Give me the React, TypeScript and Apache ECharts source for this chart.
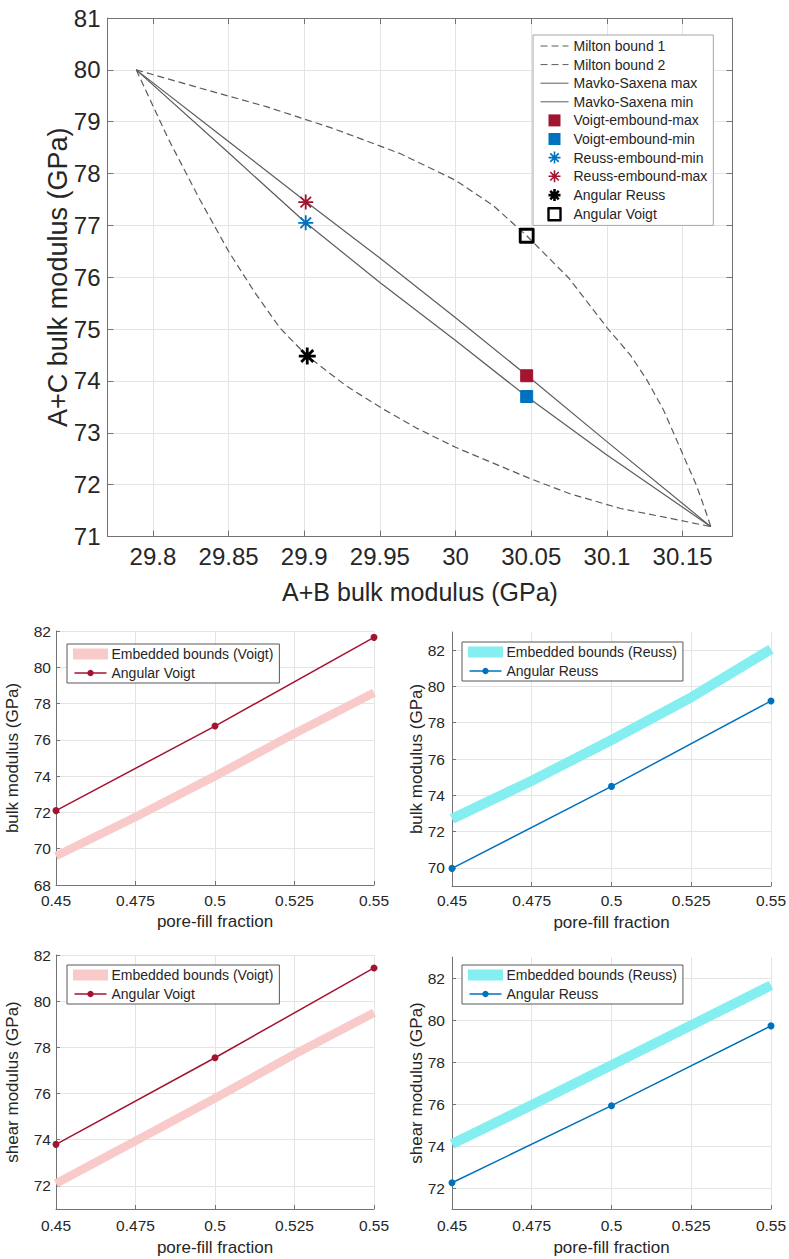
import React, { useEffect, useRef } from 'react';
import * as echarts from 'echarts';

const FONT = '"Liberation Sans", Arial, Helvetica, sans-serif';
const TEXT = '#262626';
const AXIS = '#737373';
const GRIDLINE = '#e4e4e4';
const CURVE = '#5c5c5c';
const RED = '#a2142f';
const BLUE = '#0072bd';
const PINK = '#f8caca';
const CYAN = '#84eef0';

// ---------- top chart data: [A+B bulk modulus, A+C bulk modulus] ----------
const miltonBound1 = [
  [29.789, 80.0], [29.831, 79.65], [29.875, 79.29], [29.919, 78.87], [29.963, 78.39],
  [30.0, 77.87], [30.025, 77.38], [30.047, 76.8], [30.075, 75.98], [30.1, 75.03], [30.1155, 74.5],
  [30.1264, 74.02], [30.1374, 73.44], [30.144, 73.0], [30.1528, 72.41], [30.159, 72.0],
  [30.165, 71.51], [30.1687, 71.19],
];
const miltonBound2 = [
  [29.789, 80.0], [29.81, 78.68], [29.831, 77.5], [29.85, 76.5], [29.867, 75.72],
  [29.884, 75.02], [29.902, 74.48], [29.928, 73.9], [29.952, 73.46], [29.975, 73.08],
  [30.0, 72.72], [30.049, 72.12], [30.076, 71.82], [30.109, 71.54], [30.142, 71.35], [30.1687, 71.19],
];
const mavkoSaxenaMax = [
  [29.789, 80.0], [29.85, 78.62], [29.901, 77.46], [29.95, 76.37], [30.0, 75.22],
  [30.047, 74.11], [30.1, 72.83], [30.1687, 71.19],
];
const mavkoSaxenaMin = [
  [29.789, 80.0], [29.85, 78.4], [29.901, 77.05], [29.95, 75.9], [30.0, 74.78],
  [30.047, 73.7], [30.1, 72.57], [30.1687, 71.19],
];
const voigtEmboundMax = [30.047, 74.1];
const voigtEmboundMin = [30.047, 73.7];
const reussEmboundMin = [29.901, 77.05];
const reussEmboundMax = [29.901, 77.45];
const angularReussPoint = [29.902, 74.48];
const angularVoigtPoint = [30.047, 76.8];

// ---------- bottom charts data ----------
const poreFill = [0.45, 0.5, 0.55];
const bandFill = [0.45, 0.475, 0.5, 0.525, 0.55];
const bulkAngularVoigt = [72.1, 76.76, 81.65];
const bulkEmbeddedVoigt = [69.6, 71.75, 74.0, 76.35, 78.6];
const bulkAngularReuss = [69.97, 74.49, 79.2];
const bulkEmbeddedReuss = [72.7, 74.8, 77.05, 79.4, 82.05];
const shearAngularVoigt = [73.8, 77.55, 81.44];
const shearEmbeddedVoigt = [72.1, 73.95, 75.8, 77.7, 79.5];
const shearAngularReuss = [72.25, 75.92, 79.72];
const shearEmbeddedReuss = [74.1, 75.95, 77.85, 79.75, 81.65];

const SQUARE = 'path://M0,0L10,0L10,10L0,10Z';
const ASTERISK = 'path://M0,-10L0,10M-10,0L10,0M-7.07,-7.07L7.07,7.07M-7.07,7.07L7.07,-7.07';

const zip = (xs: number[], ys: number[]) => xs.map((x, i) => [x, ys[i]]);

function buildOption() {
  const grid: any[] = [
    { left: 107.5, top: 18, width: 625, height: 518.5 },
    { left: 56, top: 631, width: 318, height: 254 },
    { left: 452, top: 632, width: 319, height: 254 },
    { left: 56, top: 955, width: 318, height: 254 },
    { left: 452, top: 957, width: 319, height: 252 },
  ].map((g) => ({ ...g, containLabel: false, outerBoundsMode: 'none' }));

  const lbl = (size: number, extra: any = {}) => ({ fontSize: size, color: TEXT, fontFamily: FONT, ...extra });

  const xAxis: any[] = [
    {
      type: 'value', gridIndex: 0, position: 'bottom', min: 29.77, max: 30.183,
      minInterval: 0.05, maxInterval: 0.05, splitNumber: 8,
      name: 'A+B bulk modulus (GPa)', nameLocation: 'middle', nameGap: 43, nameMoveOverlap: false,
      nameTextStyle: lbl(25),
      axisLine: { show: true, onZero: false, lineStyle: { color: AXIS } },
      axisTick: { show: true, inside: true, length: 6, lineStyle: { color: AXIS } },
      axisLabel: lbl(24, { margin: 8, showMinLabel: false, showMaxLabel: false }),
      splitLine: { show: true, showMinLine: false, showMaxLine: false, lineStyle: { color: GRIDLINE } },
    },
    {
      type: 'value', gridIndex: 0, position: 'top', min: 29.77, max: 30.183,
      minInterval: 0.05, maxInterval: 0.05, splitNumber: 8,
      axisLine: { show: true, onZero: false, lineStyle: { color: AXIS } },
      axisTick: { show: true, inside: true, length: 6, lineStyle: { color: AXIS } },
      axisLabel: { show: false }, splitLine: { show: false },
    },
  ];
  const yAxis: any[] = [
    {
      type: 'value', gridIndex: 0, position: 'left', min: 71, max: 81,
      minInterval: 1, maxInterval: 1, splitNumber: 10,
      name: 'A+C bulk modulus (GPa)', nameLocation: 'middle', nameGap: 36, nameMoveOverlap: false,
      nameTextStyle: lbl(27),
      axisLine: { show: true, onZero: false, lineStyle: { color: AXIS } },
      axisTick: { show: true, inside: true, length: 6, lineStyle: { color: AXIS } },
      axisLabel: lbl(24, { margin: 7 }),
      splitLine: { show: true, showMinLine: false, showMaxLine: false, lineStyle: { color: GRIDLINE } },
    },
    {
      type: 'value', gridIndex: 0, position: 'right', min: 71, max: 81,
      minInterval: 1, maxInterval: 1, splitNumber: 10,
      axisLine: { show: true, onZero: false, lineStyle: { color: AXIS } },
      axisTick: { show: true, inside: true, length: 6, lineStyle: { color: AXIS } },
      axisLabel: { show: false }, splitLine: { show: false },
    },
  ];

  const curve = (name: string, data: number[][], dashed: boolean) => ({
    name, type: 'line', xAxisIndex: 0, yAxisIndex: 0, data, symbol: 'none', showSymbol: false,
    smooth: false,
    lineStyle: { color: CURVE, width: 1.2, type: dashed ? [7, 4] : 'solid', join: 'round' },
    itemStyle: { color: CURVE }, z: 2,
  });
  const marker = (name: string, point: number[], symbol: string, size: number, itemStyle: any) => ({
    name, type: 'scatter', xAxisIndex: 0, yAxisIndex: 0, data: [point], symbol, symbolSize: size,
    symbolKeepAspect: true, itemStyle: { opacity: 1, ...itemStyle }, z: 5,
  });

  const series: any[] = [
    curve('Milton bound 1', miltonBound1, true),
    curve('Milton bound 2', miltonBound2, true),
    curve('Mavko-Saxena max', mavkoSaxenaMax, false),
    curve('Mavko-Saxena min', mavkoSaxenaMin, false),
    marker('Voigt-embound-max', voigtEmboundMax, SQUARE, 12, { color: RED, borderColor: RED, borderWidth: 1, borderJoin: 'round' }),
    marker('Voigt-embound-min', voigtEmboundMin, SQUARE, 12, { color: BLUE, borderColor: BLUE, borderWidth: 1, borderJoin: 'round' }),
    marker('Reuss-embound-min', reussEmboundMin, ASTERISK, 15, { color: BLUE, borderColor: BLUE, borderWidth: 1.8 }),
    marker('Reuss-embound-max', reussEmboundMax, ASTERISK, 15, { color: RED, borderColor: RED, borderWidth: 1.8 }),
    marker('Angular Reuss', angularReussPoint, ASTERISK, 17, { color: '#000', borderColor: '#000', borderWidth: 2.8 }),
    marker('Angular Voigt', angularVoigtPoint, SQUARE, 13, { color: 'rgba(0,0,0,0)', borderColor: '#000', borderWidth: 2.8, borderJoin: 'round' }),
  ];

  const legend: any[] = [
    {
      orient: 'vertical', left: 533, top: 35, padding: [4, 6, 4, 7], itemGap: 4.6,
      itemWidth: 28, itemHeight: 12, selectedMode: false,
      borderColor: '#a6a6a6', borderWidth: 1, backgroundColor: '#fff',
      textStyle: lbl(14), lineStyle: { width: 1 },
      data: [
        { name: 'Milton bound 1', itemStyle: { opacity: 0 } },
        { name: 'Milton bound 2', itemStyle: { opacity: 0 } },
        { name: 'Mavko-Saxena max', itemStyle: { opacity: 0 } },
        { name: 'Mavko-Saxena min', itemStyle: { opacity: 0 } },
        { name: 'Voigt-embound-max', itemStyle: { borderWidth: 0, opacity: 1 } },
        { name: 'Voigt-embound-min', itemStyle: { borderWidth: 0, opacity: 1 } },
        { name: 'Reuss-embound-min', itemStyle: { borderWidth: 1.6, opacity: 1 } },
        { name: 'Reuss-embound-max', itemStyle: { borderWidth: 1.6, opacity: 1 } },
        { name: 'Angular Reuss', itemStyle: { borderWidth: 2.6, opacity: 1 } },
        { name: 'Angular Voigt', itemStyle: { borderWidth: 2.4, opacity: 1 } },
      ],
    },
  ];

  const panels = [
    { key: 'bv', yMin: 68, yMax: 82, yName: 'bulk modulus (GPa)', band: bulkEmbeddedVoigt, line: bulkAngularVoigt,
      bandColor: PINK, lineColor: RED, bandWidth: 8.5, bandName: 'Embedded bounds (Voigt)', lineName: 'Angular Voigt',
      nameGap: 35.5, yMargin: 5, xMargin: 7, xNameGap: 28, lgLeft: 67, lgTop: 644, minLbl: true, maxLbl: true },
    { key: 'br', yMin: 69, yMax: 83, yName: 'bulk modulus (GPa)', band: bulkEmbeddedReuss, line: bulkAngularReuss,
      bandColor: CYAN, lineColor: BLUE, bandWidth: 10, bandName: 'Embedded bounds (Reuss)', lineName: 'Angular Reuss',
      nameGap: 27, yMargin: 7, xMargin: 6, xNameGap: 28, lgLeft: 462, lgTop: 642, minLbl: false, maxLbl: false },
    { key: 'sv', yMin: 71, yMax: 82, yName: 'shear modulus (GPa)', band: shearEmbeddedVoigt, line: shearAngularVoigt,
      bandColor: PINK, lineColor: RED, bandWidth: 8.5, bandName: 'Embedded bounds (Voigt)', lineName: 'Angular Voigt',
      nameGap: 35.5, yMargin: 5, xMargin: 8, xNameGap: 30, lgLeft: 67, lgTop: 965, minLbl: false, maxLbl: true },
    { key: 'sr', yMin: 71, yMax: 83, yName: 'shear modulus (GPa)', band: shearEmbeddedReuss, line: shearAngularReuss,
      bandColor: CYAN, lineColor: BLUE, bandWidth: 10, bandName: 'Embedded bounds (Reuss)', lineName: 'Angular Reuss',
      nameGap: 27, yMargin: 7, xMargin: 8, xNameGap: 30, lgLeft: 462, lgTop: 965, minLbl: false, maxLbl: false },
  ];

  panels.forEach((p, i) => {
    const gi = i + 1;
    const ai = i + 2;
    xAxis.push({
      type: 'value', gridIndex: gi, position: 'bottom', min: 0.45, max: 0.55,
      minInterval: 0.025, maxInterval: 0.025, splitNumber: 4,
      name: 'pore-fill fraction', nameLocation: 'middle', nameGap: p.xNameGap, nameMoveOverlap: false,
      nameTextStyle: lbl(17),
      axisLine: { show: true, onZero: false, lineStyle: { color: AXIS } },
      axisTick: { show: true, inside: true, length: 4, lineStyle: { color: AXIS } },
      axisLabel: lbl(15.5, { margin: p.xMargin, showMinLabel: true, showMaxLabel: true }),
      splitLine: { show: true, lineStyle: { color: GRIDLINE } },
    });
    yAxis.push({
      type: 'value', gridIndex: gi, position: 'left', min: p.yMin, max: p.yMax,
      minInterval: 2, maxInterval: 2, splitNumber: 7,
      name: p.yName, nameLocation: 'middle', nameGap: p.nameGap, nameMoveOverlap: false,
      nameTextStyle: lbl(17),
      axisLine: { show: true, onZero: false, lineStyle: { color: AXIS } },
      axisTick: { show: true, inside: true, length: 4, lineStyle: { color: AXIS } },
      axisLabel: lbl(15.5, { margin: p.yMargin, showMinLabel: p.minLbl, showMaxLabel: p.maxLbl }),
      splitLine: { show: true, showMinLine: p.minLbl, showMaxLine: p.maxLbl, lineStyle: { color: GRIDLINE } },
    });
    series.push({
      name: p.key + 'Band', type: 'line', xAxisIndex: ai, yAxisIndex: ai,
      data: zip(bandFill, p.band), symbol: 'none', showSymbol: false, smooth: false,
      lineStyle: { color: p.bandColor, width: p.bandWidth, cap: 'butt', join: 'round' }, itemStyle: { color: p.bandColor }, z: 2,
    });
    series.push({
      name: p.key + 'Line', type: 'line', xAxisIndex: ai, yAxisIndex: ai,
      data: zip(poreFill, p.line), symbol: 'circle', symbolSize: 7, showSymbol: true,
      lineStyle: { color: p.lineColor, width: 1.5 }, itemStyle: { color: p.lineColor }, z: 4,
    });
    legend.push({
      orient: 'vertical', left: p.lgLeft, top: p.lgTop, padding: [3, 6, 3, 6], itemGap: 5,
      itemWidth: 32, itemHeight: 8, selectedMode: false,
      borderColor: '#595959', borderWidth: 1, backgroundColor: '#fff',
      textStyle: lbl(14), lineStyle: { width: 1.5 },
      formatter: (n: string) => (n === p.key + 'Band' ? p.bandName : p.lineName),
      data: [
        { name: p.key + 'Band', icon: 'rect', itemStyle: { color: p.bandColor, borderColor: p.bandColor, borderWidth: 3 } },
        { name: p.key + 'Line' },
      ],
    });
  });

  return { animation: false, backgroundColor: '#fff', grid, xAxis, yAxis, legend, series };
}

export default function App() {
  const ref = useRef<HTMLDivElement>(null);
  useEffect(() => {
    const chart = echarts.init(ref.current as HTMLDivElement, null, { renderer: 'svg' });
    chart.setOption(buildOption() as any);
    return () => chart.dispose();
  }, []);
  return (
    <div
      ref={ref}
      style={{ position: 'absolute', left: 0, top: 0, width: 789, height: 1259, background: '#fff' }}
    />
  );
}
